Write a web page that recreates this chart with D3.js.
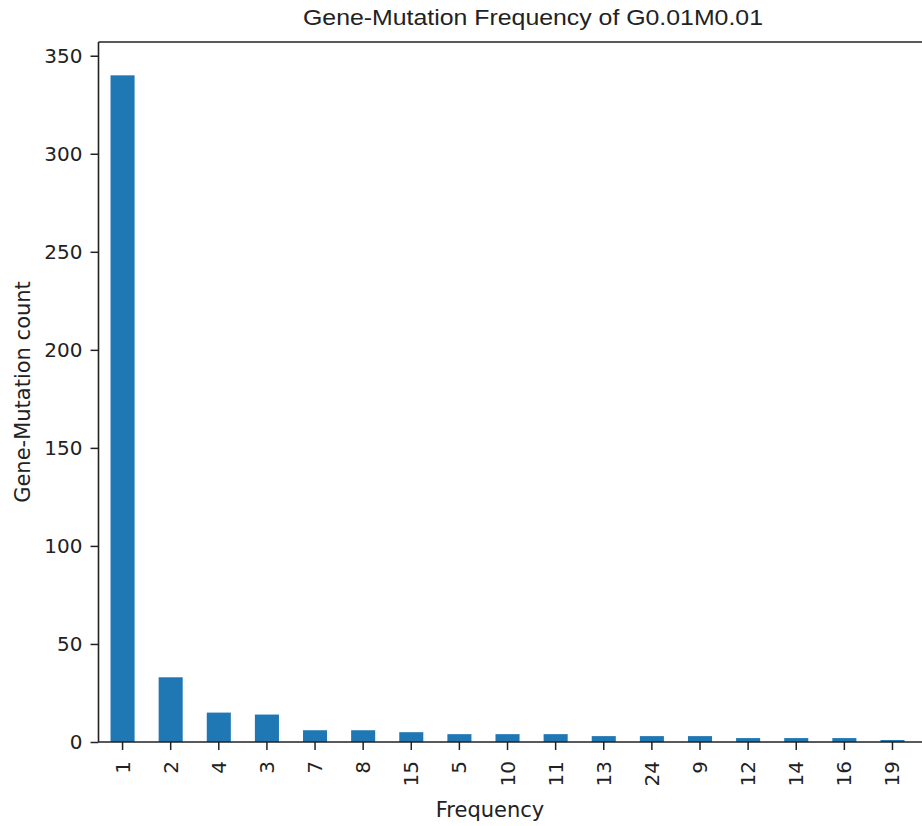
<!DOCTYPE html>
<html>
<head>
<meta charset="utf-8">
<script src="https://cdn.jsdelivr.net/npm/d3@7"></script>
<style>
  html, body { margin: 0; padding: 0; background: #fff; }
  svg { display: block; }
  text { font-family: "DejaVu Sans", sans-serif; fill: #222; }
</style>
</head>
<body>
<svg id="chart" width="922" height="826"></svg>
<script>
const categories = ["1","2","4","3","7","8","15","5","10","11","13","24","9","12","14","16","19"];
const counts = [340, 33, 15, 14, 6, 6, 5, 4, 4, 4, 3, 3, 3, 2, 2, 2, 1];
const yTicks = [0, 50, 100, 150, 200, 250, 300, 350];
const titleText = "Gene-Mutation Frequency of G0.01M0.01";
const xLabelText = "Frequency";
const yLabelText = "Gene-Mutation count";

const W = 922, H = 826;
const plotLeft = 98.5, plotTop = 42, plotBottom = 742;
const step = 48.12;
const plotRight = plotLeft + step * categories.length;

const svg = d3.select("#chart");

const x = d3.scaleBand().domain(categories).range([plotLeft, plotRight]).paddingInner(0.5).paddingOuter(0.25);
const y = d3.scaleLinear().domain([0, 357]).range([plotBottom, plotTop]);

// bars
svg.append("g").selectAll("rect").data(categories).join("rect")
  .attr("x", d => x(d))
  .attr("width", x.bandwidth())
  .attr("y", (d, i) => y(counts[i]))
  .attr("height", (d, i) => y(0) - y(counts[i]))
  .attr("fill", "#1f77b4");

// y axis
const yAxis = svg.append("g").attr("transform", `translate(${plotLeft},0)`)
  .call(d3.axisLeft(y).tickValues(yTicks).tickSize(8).tickPadding(8).tickSizeOuter(0));
yAxis.select(".domain").remove();
yAxis.selectAll(".tick line").attr("stroke", "#222").attr("stroke-width", 1.5);
yAxis.selectAll(".tick text").style("font-size", "20px").attr("fill", "#222")
  .style("font-family", "DejaVu Sans, sans-serif");

// x axis
const xAxis = svg.append("g").attr("transform", `translate(0,${plotBottom})`)
  .call(d3.axisBottom(x).tickSize(8).tickSizeOuter(0));
xAxis.select(".domain").remove();
xAxis.selectAll(".tick line").attr("stroke", "#222").attr("stroke-width", 1.5);
xAxis.selectAll(".tick text")
  .style("font-size", "20px").attr("fill", "#222")
  .style("font-family", "DejaVu Sans, sans-serif")
  .attr("text-anchor", "end")
  .attr("x", 0).attr("y", 0)
  .attr("dy", "0.35em")
  .attr("transform", "translate(0,19) rotate(-90)");

// spines (right spine lies outside the cropped image)
const spines = svg.append("g").attr("stroke", "#222").attr("stroke-width", 1.6).attr("fill", "none");
spines.append("line").attr("x1", plotLeft).attr("x2", W).attr("y1", plotTop).attr("y2", plotTop);
spines.append("line").attr("x1", plotLeft).attr("x2", W).attr("y1", plotBottom).attr("y2", plotBottom);
spines.append("line").attr("x1", plotLeft).attr("x2", plotLeft).attr("y1", plotTop).attr("y2", plotBottom);

// title
svg.append("text").attr("x", 533).attr("y", 25)
  .attr("text-anchor", "middle").style("font-size", "21.5px")
  .style("font-family", "Liberation Sans, Arial, sans-serif")
  .attr("textLength", 460).attr("lengthAdjust", "spacingAndGlyphs")
  .text(titleText);

// x label
svg.append("text").attr("x", 490).attr("y", 817)
  .attr("text-anchor", "middle").style("font-size", "21px")
  .text(xLabelText);

// y label
svg.append("text").attr("transform", `translate(30,${(plotTop + plotBottom) / 2}) rotate(-90)`)
  .attr("text-anchor", "middle").style("font-size", "21px")
  .text(yLabelText);
</script>
</body>
</html>
